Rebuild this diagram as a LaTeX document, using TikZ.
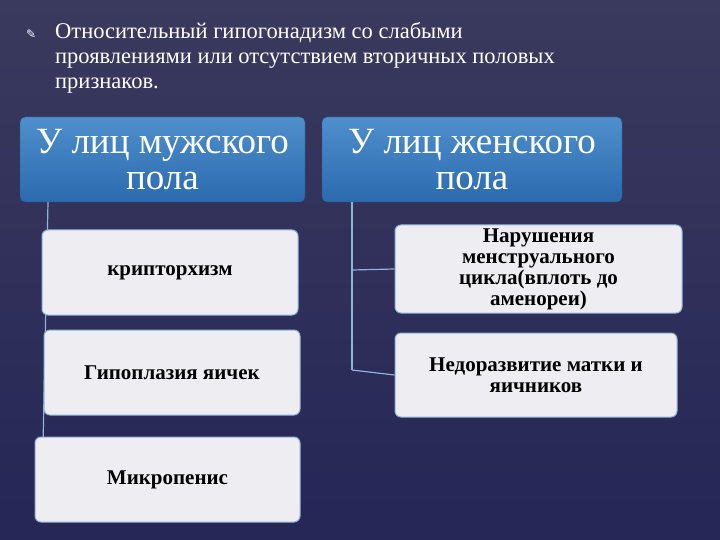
\documentclass[tikz,border=0pt]{standalone}
\usepackage{fontspec}
\setmainfont{Liberation Serif}
\newfontfamily\symf{DejaVu Sans}
\definecolor{bgA}{HTML}{3A3A5E}
\definecolor{bgB}{HTML}{262657}
\definecolor{hdA}{HTML}{4F8FCC}
\definecolor{hdB}{HTML}{2B6AAE}
\definecolor{lnC}{HTML}{8FB4D8}
\definecolor{bxC}{HTML}{EDEDF2}
\tikzset{
 hdr/.style={draw=hdB!80!black, rounded corners=5pt, top color=hdA, bottom color=hdB, text=white, font=\fontsize{37}{36}\selectfont, align=center, inner sep=0pt},
 item/.style={draw=lnC, line width=1pt, rounded corners=6pt, fill=bxC, text=black, font=\bfseries\fontsize{21}{21}\selectfont, align=center, inner sep=0pt},
 conn/.style={draw=lnC, line width=1.2pt}
}
\begin{document}
\begin{tikzpicture}[x=1pt,y=-1pt]
\useasboundingbox (0,0) rectangle (720,540);
\shade[top color=bgA, bottom color=bgB] (0,0) rectangle (720,540);
\node[text=white, anchor=north west, inner sep=0pt] (bul) at (26,30) {\symf\fontsize{12}{12}\selectfont ✎};
\node[text=white, anchor=north west, align=left, inner sep=0pt, font=\fontsize{22.5}{25}\selectfont] (intro) at (55,22) {Относительный гипогонадизм со слабыми\\проявлениями или отсутствием вторичных половых\\признаков.};
\node[hdr, minimum width=285pt, minimum height=85pt] (m) at (162.5,159.5) {У лиц мужского\\пола};
\node[hdr, minimum width=300pt, minimum height=85pt] (f) at (472,159.5) {У лиц женского\\пола};
\coordinate (mt) at (48,202);
\coordinate (mb) at (42,495);
\draw[conn] (mt) -- (mb);
\coordinate (ft) at (352,202);
\coordinate (f1) at (352,270);
\coordinate (f2) at (352,370);
\draw[conn] (ft) -- (f2);
\node[item, minimum width=256pt, minimum height=85pt] (k) at (170,272.5) {крипторхизм};
\node[item, minimum width=256pt, minimum height=85pt] (g) at (172,372.5) {Гипоплазия яичек};
\node[item, minimum width=265pt, minimum height=85pt] (mk) at (167.5,479.5) {Микропенис};
\node[item, minimum width=287pt, minimum height=88pt] (n) at (538.5,269) {Нарушения\\менструального\\цикла(вплоть до\\аменореи)};
\node[item, minimum width=282pt, minimum height=84pt] (nd) at (536,375) {Недоразвитие матки и\\яичников};
\draw[conn] (f1) -- (n.west);
\draw[conn] (f2) -- (nd.west);
\end{tikzpicture}
\end{document}
